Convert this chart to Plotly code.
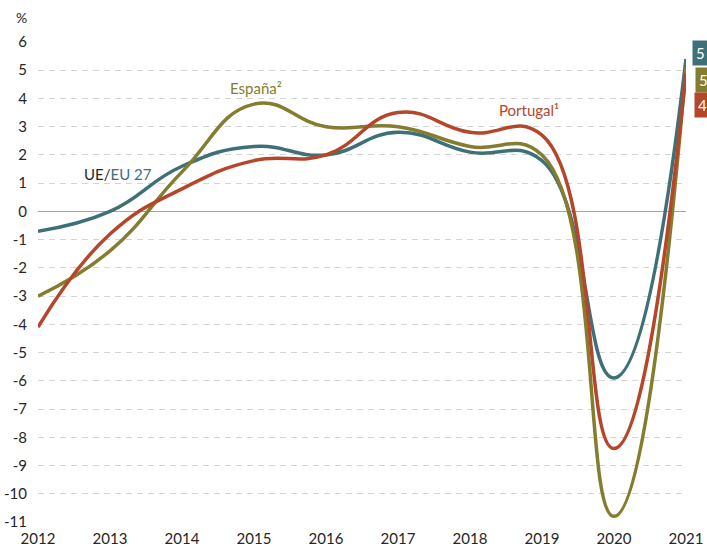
import plotly.graph_objects as go

# Real GDP growth, annual % change
years = [2012, 2013, 2014, 2015, 2016, 2017, 2018, 2019, 2020, 2021]
eu27 = [-0.7, 0.0, 1.6, 2.3, 2.0, 2.8, 2.1, 1.8, -5.9, 5.4]
espana = [-3.0, -1.4, 1.4, 3.8, 3.0, 3.0, 2.3, 2.0, -10.8, 5.1]
portugal = [-4.1, -0.8, 0.8, 1.8, 2.0, 3.5, 2.8, 2.7, -8.4, 4.9]

y_ticks = list(range(-11, 7))
y_ticktext = [str(v) for v in y_ticks]  # plain hyphen minus

TEAL = "#3e7078"
OLIVE = "#847d2e"
RED = "#b6462a"
FONT = "Lato, 'Open Sans', sans-serif"

fig = go.Figure()

for name, vals, col in [("EU 27", eu27, TEAL), ("España", espana, OLIVE),
                        ("Portugal", portugal, RED)]:
    fig.add_trace(go.Scatter(
        x=years, y=vals, name=name, mode="lines",
        line=dict(color=col, width=3.5, shape="spline", smoothing=1.3),
        hoverinfo="x+y+name", cliponaxis=False,
    ))

# series labels
fig.add_annotation(x=2015.03, y=4.38, xref="x", yref="y", text="España²",
                   showarrow=False, font=dict(color=OLIVE, size=15, family=FONT))
fig.add_annotation(x=2018.82, y=3.6, xref="x", yref="y", text="Portugal¹",
                   showarrow=False, font=dict(color=RED, size=15, family=FONT))
fig.add_annotation(x=2013.11, y=1.31, xref="x", yref="y",
                   text=f"UE/<span style='color:{TEAL}'>EU 27</span>",
                   showarrow=False, font=dict(color="#262626", size=15, family=FONT))

# end-value tags on the right edge (integer part shown)
box_y = [5.62, 4.66, 3.78]
box_shift = [6, 9, 8]
for vals, col, by, bs in zip([eu27, espana, portugal], [TEAL, OLIVE, RED],
                             box_y, box_shift):
    fig.add_annotation(
        x=years[-1], y=by, xref="x", yref="y", xanchor="left", xshift=bs,
        text=str(int(vals[-1])), showarrow=False, align="left",
        bgcolor=col, borderpad=3, width=16,
        font=dict(color="white", size=15, family=FONT),
    )

fig.add_annotation(x=0.0, y=1.0, xref="paper", yref="paper", text="%",
                   showarrow=False, xanchor="right", yanchor="bottom",
                   xshift=-9, yshift=14,
                   font=dict(color="#262626", size=14, family=FONT))

fig.update_layout(
    width=707, height=549,
    margin=dict(l=38, r=21, t=42, b=27),
    plot_bgcolor="white", paper_bgcolor="white",
    showlegend=False,
    font=dict(family=FONT, size=14, color="#262626"),
    xaxis=dict(range=[2012, 2021], tickvals=years, ticktext=[str(y) for y in years],
               showgrid=False, zeroline=False, showline=False, automargin=False,
               ticks="", ticklabelstandoff=6,
               tickfont=dict(size=15, color="#262626")),
    yaxis=dict(range=[-11, 6], tickvals=y_ticks, ticktext=y_ticktext,
               showgrid=True, gridcolor="#d4d4d4", griddash="6px,5px", gridwidth=1,
               zeroline=True, zerolinecolor="#a6a6a6", zerolinewidth=1.4,
               showline=False, ticks="", ticklabelstandoff=10, automargin=False,
               tickfont=dict(size=15, color="#262626")),
)

fig.write_html("out.html")
